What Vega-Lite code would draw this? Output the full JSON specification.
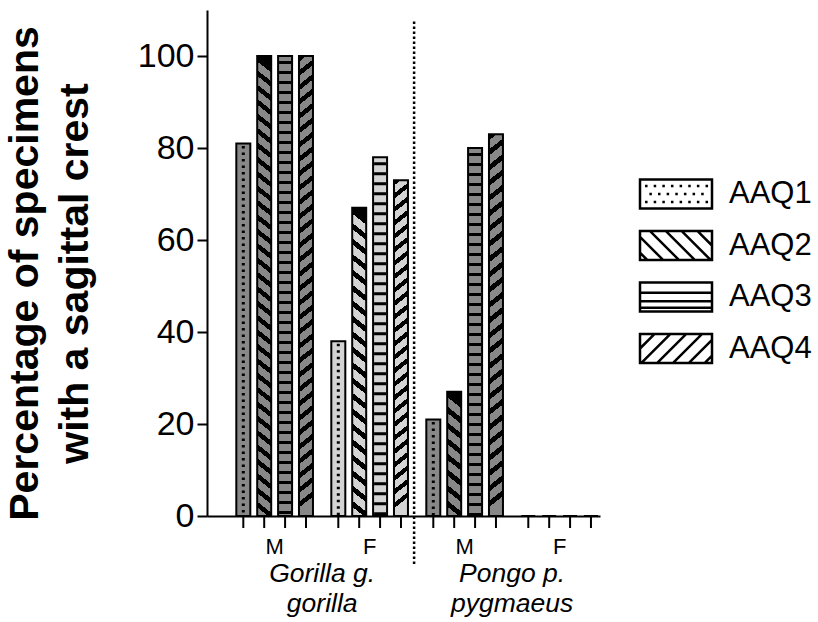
{
  "$schema": "https://vega.github.io/schema/vega-lite/v6.json",
  "autosize": "none",
  "width": 393,
  "height": 506,
  "padding": {"left": 207, "top": 10, "right": 218, "bottom": 106},
  "background": "white",
  "config": {
    "view": {"stroke": null},
    "font": "Liberation Sans",
    "axis": {"grid": false, "domainColor": "#000", "domainWidth": 2, "tickColor": "#000", "tickWidth": 2, "labelColor": "#000", "titleColor": "#000"}
  },
  "data": {
    "values": [
      {"group": "Gorilla M", "aaq": "AAQ1", "pct": 81},
      {"group": "Gorilla M", "aaq": "AAQ2", "pct": 100},
      {"group": "Gorilla M", "aaq": "AAQ3", "pct": 100},
      {"group": "Gorilla M", "aaq": "AAQ4", "pct": 100},
      {"group": "Gorilla F", "aaq": "AAQ1", "pct": 38},
      {"group": "Gorilla F", "aaq": "AAQ2", "pct": 67},
      {"group": "Gorilla F", "aaq": "AAQ3", "pct": 78},
      {"group": "Gorilla F", "aaq": "AAQ4", "pct": 73},
      {"group": "Pongo M", "aaq": "AAQ1", "pct": 21},
      {"group": "Pongo M", "aaq": "AAQ2", "pct": 27},
      {"group": "Pongo M", "aaq": "AAQ3", "pct": 80},
      {"group": "Pongo M", "aaq": "AAQ4", "pct": 83},
      {"group": "Pongo F", "aaq": "AAQ1", "pct": 0},
      {"group": "Pongo F", "aaq": "AAQ2", "pct": 0},
      {"group": "Pongo F", "aaq": "AAQ3", "pct": 0},
      {"group": "Pongo F", "aaq": "AAQ4", "pct": 0}
    ]
  },
  "layer": [
    {
      "encoding": {
        "x": {
          "field": "group", "type": "nominal",
          "scale": {"domain": ["Gorilla M", "Gorilla F", "Pongo M", "Pongo F"], "paddingInner": 0.193, "paddingOuter": 0.165, "align": 0.935},
          "axis": {"title": null, "ticks": false, "labelExpr": "slice(datum.label, -1)", "labelFontSize": 22, "labelPadding": 20, "labelAngle": 0, "domainWidth": 2}
        },
        "xOffset": {
          "field": "aaq", "type": "nominal",
          "scale": {"domain": ["AAQ1", "AAQ2", "AAQ3", "AAQ4"], "paddingInner": 0.33, "paddingOuter": 0}
        }
      },
      "layer": [
        {
          "mark": {"type": "bar", "strokeWidth": 2, "stroke": "#000"},
          "encoding": {
            "y": {
              "field": "pct", "type": "quantitative",
              "scale": {"domain": [0, 110], "nice": false},
              "axis": {
                "values": [0, 20, 40, 60, 80, 100],
                "title": ["Percentage of specimens", "with a sagittal crest"],
                "titleFontSize": 41, "titleFontWeight": "bold", "titleLineHeight": 50,
                "titleX": -161, "titleY": 263, "titleAngle": 270, "titleBaseline": "bottom", "titleAlign": "center",
                "labelFontSize": 34, "tickSize": 10, "tickWidth": 2, "labelPadding": 3, "domainWidth": 2
              }
            },
            "fill": {
              "condition": [
                {"test": "datum.group == 'Gorilla M' && datum.aaq == 'AAQ2'", "value": {"gradient": "linear", "x1": 0.024, "y1": 0, "x2": 0, "y2": 1, "stops": [
                  {"offset":0,"color":"#000"},{"offset":0.0125,"color":"#000"},{"offset":0.0125,"color":"#888"},{"offset":0.03125,"color":"#888"},
                  {"offset":0.03125,"color":"#000"},{"offset":0.04375,"color":"#000"},{"offset":0.04375,"color":"#888"},{"offset":0.0625,"color":"#888"},
                  {"offset":0.0625,"color":"#000"},{"offset":0.075,"color":"#000"},{"offset":0.075,"color":"#888"},{"offset":0.09375,"color":"#888"},
                  {"offset":0.09375,"color":"#000"},{"offset":0.10625,"color":"#000"},{"offset":0.10625,"color":"#888"},{"offset":0.125,"color":"#888"},
                  {"offset":0.125,"color":"#000"},{"offset":0.1375,"color":"#000"},{"offset":0.1375,"color":"#888"},{"offset":0.15625,"color":"#888"},
                  {"offset":0.15625,"color":"#000"},{"offset":0.16875,"color":"#000"},{"offset":0.16875,"color":"#888"},{"offset":0.1875,"color":"#888"},
                  {"offset":0.1875,"color":"#000"},{"offset":0.2,"color":"#000"},{"offset":0.2,"color":"#888"},{"offset":0.21875,"color":"#888"},
                  {"offset":0.21875,"color":"#000"},{"offset":0.23125,"color":"#000"},{"offset":0.23125,"color":"#888"},{"offset":0.25,"color":"#888"},
                  {"offset":0.25,"color":"#000"},{"offset":0.2625,"color":"#000"},{"offset":0.2625,"color":"#888"},{"offset":0.28125,"color":"#888"},
                  {"offset":0.28125,"color":"#000"},{"offset":0.29375,"color":"#000"},{"offset":0.29375,"color":"#888"},{"offset":0.3125,"color":"#888"},
                  {"offset":0.3125,"color":"#000"},{"offset":0.325,"color":"#000"},{"offset":0.325,"color":"#888"},{"offset":0.34375,"color":"#888"},
                  {"offset":0.34375,"color":"#000"},{"offset":0.35625,"color":"#000"},{"offset":0.35625,"color":"#888"},{"offset":0.375,"color":"#888"},
                  {"offset":0.375,"color":"#000"},{"offset":0.3875,"color":"#000"},{"offset":0.3875,"color":"#888"},{"offset":0.40625,"color":"#888"},
                  {"offset":0.40625,"color":"#000"},{"offset":0.41875,"color":"#000"},{"offset":0.41875,"color":"#888"},{"offset":0.4375,"color":"#888"},
                  {"offset":0.4375,"color":"#000"},{"offset":0.45,"color":"#000"},{"offset":0.45,"color":"#888"},{"offset":0.46875,"color":"#888"},
                  {"offset":0.46875,"color":"#000"},{"offset":0.48125,"color":"#000"},{"offset":0.48125,"color":"#888"},{"offset":0.5,"color":"#888"},
                  {"offset":0.5,"color":"#000"},{"offset":0.5125,"color":"#000"},{"offset":0.5125,"color":"#888"},{"offset":0.53125,"color":"#888"},
                  {"offset":0.53125,"color":"#000"},{"offset":0.54375,"color":"#000"},{"offset":0.54375,"color":"#888"},{"offset":0.5625,"color":"#888"},
                  {"offset":0.5625,"color":"#000"},{"offset":0.575,"color":"#000"},{"offset":0.575,"color":"#888"},{"offset":0.59375,"color":"#888"},
                  {"offset":0.59375,"color":"#000"},{"offset":0.60625,"color":"#000"},{"offset":0.60625,"color":"#888"},{"offset":0.625,"color":"#888"},
                  {"offset":0.625,"color":"#000"},{"offset":0.6375,"color":"#000"},{"offset":0.6375,"color":"#888"},{"offset":0.65625,"color":"#888"},
                  {"offset":0.65625,"color":"#000"},{"offset":0.66875,"color":"#000"},{"offset":0.66875,"color":"#888"},{"offset":0.6875,"color":"#888"},
                  {"offset":0.6875,"color":"#000"},{"offset":0.7,"color":"#000"},{"offset":0.7,"color":"#888"},{"offset":0.71875,"color":"#888"},
                  {"offset":0.71875,"color":"#000"},{"offset":0.73125,"color":"#000"},{"offset":0.73125,"color":"#888"},{"offset":0.75,"color":"#888"},
                  {"offset":0.75,"color":"#000"},{"offset":0.7625,"color":"#000"},{"offset":0.7625,"color":"#888"},{"offset":0.78125,"color":"#888"},
                  {"offset":0.78125,"color":"#000"},{"offset":0.79375,"color":"#000"},{"offset":0.79375,"color":"#888"},{"offset":0.8125,"color":"#888"},
                  {"offset":0.8125,"color":"#000"},{"offset":0.825,"color":"#000"},{"offset":0.825,"color":"#888"},{"offset":0.84375,"color":"#888"},
                  {"offset":0.84375,"color":"#000"},{"offset":0.85625,"color":"#000"},{"offset":0.85625,"color":"#888"},{"offset":0.875,"color":"#888"},
                  {"offset":0.875,"color":"#000"},{"offset":0.8875,"color":"#000"},{"offset":0.8875,"color":"#888"},{"offset":0.90625,"color":"#888"},
                  {"offset":0.90625,"color":"#000"},{"offset":0.91875,"color":"#000"},{"offset":0.91875,"color":"#888"},{"offset":0.9375,"color":"#888"},
                  {"offset":0.9375,"color":"#000"},{"offset":0.95,"color":"#000"},{"offset":0.95,"color":"#888"},{"offset":0.96875,"color":"#888"},
                  {"offset":0.96875,"color":"#000"},{"offset":0.98125,"color":"#000"},{"offset":0.98125,"color":"#888"},{"offset":1,"color":"#888"}
                ]}},
                {"test": "datum.group == 'Gorilla M' && datum.aaq == 'AAQ4'", "value": {"gradient": "linear", "x1": 0, "y1": 0, "x2": 0.024, "y2": 1, "stops": [
                  {"offset":0,"color":"#000"},{"offset":0.0125,"color":"#000"},{"offset":0.0125,"color":"#888"},{"offset":0.03125,"color":"#888"},
                  {"offset":0.03125,"color":"#000"},{"offset":0.04375,"color":"#000"},{"offset":0.04375,"color":"#888"},{"offset":0.0625,"color":"#888"},
                  {"offset":0.0625,"color":"#000"},{"offset":0.075,"color":"#000"},{"offset":0.075,"color":"#888"},{"offset":0.09375,"color":"#888"},
                  {"offset":0.09375,"color":"#000"},{"offset":0.10625,"color":"#000"},{"offset":0.10625,"color":"#888"},{"offset":0.125,"color":"#888"},
                  {"offset":0.125,"color":"#000"},{"offset":0.1375,"color":"#000"},{"offset":0.1375,"color":"#888"},{"offset":0.15625,"color":"#888"},
                  {"offset":0.15625,"color":"#000"},{"offset":0.16875,"color":"#000"},{"offset":0.16875,"color":"#888"},{"offset":0.1875,"color":"#888"},
                  {"offset":0.1875,"color":"#000"},{"offset":0.2,"color":"#000"},{"offset":0.2,"color":"#888"},{"offset":0.21875,"color":"#888"},
                  {"offset":0.21875,"color":"#000"},{"offset":0.23125,"color":"#000"},{"offset":0.23125,"color":"#888"},{"offset":0.25,"color":"#888"},
                  {"offset":0.25,"color":"#000"},{"offset":0.2625,"color":"#000"},{"offset":0.2625,"color":"#888"},{"offset":0.28125,"color":"#888"},
                  {"offset":0.28125,"color":"#000"},{"offset":0.29375,"color":"#000"},{"offset":0.29375,"color":"#888"},{"offset":0.3125,"color":"#888"},
                  {"offset":0.3125,"color":"#000"},{"offset":0.325,"color":"#000"},{"offset":0.325,"color":"#888"},{"offset":0.34375,"color":"#888"},
                  {"offset":0.34375,"color":"#000"},{"offset":0.35625,"color":"#000"},{"offset":0.35625,"color":"#888"},{"offset":0.375,"color":"#888"},
                  {"offset":0.375,"color":"#000"},{"offset":0.3875,"color":"#000"},{"offset":0.3875,"color":"#888"},{"offset":0.40625,"color":"#888"},
                  {"offset":0.40625,"color":"#000"},{"offset":0.41875,"color":"#000"},{"offset":0.41875,"color":"#888"},{"offset":0.4375,"color":"#888"},
                  {"offset":0.4375,"color":"#000"},{"offset":0.45,"color":"#000"},{"offset":0.45,"color":"#888"},{"offset":0.46875,"color":"#888"},
                  {"offset":0.46875,"color":"#000"},{"offset":0.48125,"color":"#000"},{"offset":0.48125,"color":"#888"},{"offset":0.5,"color":"#888"},
                  {"offset":0.5,"color":"#000"},{"offset":0.5125,"color":"#000"},{"offset":0.5125,"color":"#888"},{"offset":0.53125,"color":"#888"},
                  {"offset":0.53125,"color":"#000"},{"offset":0.54375,"color":"#000"},{"offset":0.54375,"color":"#888"},{"offset":0.5625,"color":"#888"},
                  {"offset":0.5625,"color":"#000"},{"offset":0.575,"color":"#000"},{"offset":0.575,"color":"#888"},{"offset":0.59375,"color":"#888"},
                  {"offset":0.59375,"color":"#000"},{"offset":0.60625,"color":"#000"},{"offset":0.60625,"color":"#888"},{"offset":0.625,"color":"#888"},
                  {"offset":0.625,"color":"#000"},{"offset":0.6375,"color":"#000"},{"offset":0.6375,"color":"#888"},{"offset":0.65625,"color":"#888"},
                  {"offset":0.65625,"color":"#000"},{"offset":0.66875,"color":"#000"},{"offset":0.66875,"color":"#888"},{"offset":0.6875,"color":"#888"},
                  {"offset":0.6875,"color":"#000"},{"offset":0.7,"color":"#000"},{"offset":0.7,"color":"#888"},{"offset":0.71875,"color":"#888"},
                  {"offset":0.71875,"color":"#000"},{"offset":0.73125,"color":"#000"},{"offset":0.73125,"color":"#888"},{"offset":0.75,"color":"#888"},
                  {"offset":0.75,"color":"#000"},{"offset":0.7625,"color":"#000"},{"offset":0.7625,"color":"#888"},{"offset":0.78125,"color":"#888"},
                  {"offset":0.78125,"color":"#000"},{"offset":0.79375,"color":"#000"},{"offset":0.79375,"color":"#888"},{"offset":0.8125,"color":"#888"},
                  {"offset":0.8125,"color":"#000"},{"offset":0.825,"color":"#000"},{"offset":0.825,"color":"#888"},{"offset":0.84375,"color":"#888"},
                  {"offset":0.84375,"color":"#000"},{"offset":0.85625,"color":"#000"},{"offset":0.85625,"color":"#888"},{"offset":0.875,"color":"#888"},
                  {"offset":0.875,"color":"#000"},{"offset":0.8875,"color":"#000"},{"offset":0.8875,"color":"#888"},{"offset":0.90625,"color":"#888"},
                  {"offset":0.90625,"color":"#000"},{"offset":0.91875,"color":"#000"},{"offset":0.91875,"color":"#888"},{"offset":0.9375,"color":"#888"},
                  {"offset":0.9375,"color":"#000"},{"offset":0.95,"color":"#000"},{"offset":0.95,"color":"#888"},{"offset":0.96875,"color":"#888"},
                  {"offset":0.96875,"color":"#000"},{"offset":0.98125,"color":"#000"},{"offset":0.98125,"color":"#888"},{"offset":1,"color":"#888"}
                ]}},
                {"test": "datum.group == 'Gorilla F' && datum.aaq == 'AAQ2'", "value": {"gradient": "linear", "x1": 0.036, "y1": 0, "x2": 0, "y2": 1, "stops": [
                  {"offset":0,"color":"#000"},{"offset":0.02,"color":"#000"},{"offset":0.02,"color":"#d4d4d4"},{"offset":0.05,"color":"#d4d4d4"},
                  {"offset":0.05,"color":"#000"},{"offset":0.07,"color":"#000"},{"offset":0.07,"color":"#d4d4d4"},{"offset":0.1,"color":"#d4d4d4"},
                  {"offset":0.1,"color":"#000"},{"offset":0.12,"color":"#000"},{"offset":0.12,"color":"#d4d4d4"},{"offset":0.15,"color":"#d4d4d4"},
                  {"offset":0.15,"color":"#000"},{"offset":0.17,"color":"#000"},{"offset":0.17,"color":"#d4d4d4"},{"offset":0.2,"color":"#d4d4d4"},
                  {"offset":0.2,"color":"#000"},{"offset":0.22,"color":"#000"},{"offset":0.22,"color":"#d4d4d4"},{"offset":0.25,"color":"#d4d4d4"},
                  {"offset":0.25,"color":"#000"},{"offset":0.27,"color":"#000"},{"offset":0.27,"color":"#d4d4d4"},{"offset":0.3,"color":"#d4d4d4"},
                  {"offset":0.3,"color":"#000"},{"offset":0.32,"color":"#000"},{"offset":0.32,"color":"#d4d4d4"},{"offset":0.35,"color":"#d4d4d4"},
                  {"offset":0.35,"color":"#000"},{"offset":0.37,"color":"#000"},{"offset":0.37,"color":"#d4d4d4"},{"offset":0.4,"color":"#d4d4d4"},
                  {"offset":0.4,"color":"#000"},{"offset":0.42,"color":"#000"},{"offset":0.42,"color":"#d4d4d4"},{"offset":0.45,"color":"#d4d4d4"},
                  {"offset":0.45,"color":"#000"},{"offset":0.47,"color":"#000"},{"offset":0.47,"color":"#d4d4d4"},{"offset":0.5,"color":"#d4d4d4"},
                  {"offset":0.5,"color":"#000"},{"offset":0.52,"color":"#000"},{"offset":0.52,"color":"#d4d4d4"},{"offset":0.55,"color":"#d4d4d4"},
                  {"offset":0.55,"color":"#000"},{"offset":0.57,"color":"#000"},{"offset":0.57,"color":"#d4d4d4"},{"offset":0.6,"color":"#d4d4d4"},
                  {"offset":0.6,"color":"#000"},{"offset":0.62,"color":"#000"},{"offset":0.62,"color":"#d4d4d4"},{"offset":0.65,"color":"#d4d4d4"},
                  {"offset":0.65,"color":"#000"},{"offset":0.67,"color":"#000"},{"offset":0.67,"color":"#d4d4d4"},{"offset":0.7,"color":"#d4d4d4"},
                  {"offset":0.7,"color":"#000"},{"offset":0.72,"color":"#000"},{"offset":0.72,"color":"#d4d4d4"},{"offset":0.75,"color":"#d4d4d4"},
                  {"offset":0.75,"color":"#000"},{"offset":0.77,"color":"#000"},{"offset":0.77,"color":"#d4d4d4"},{"offset":0.8,"color":"#d4d4d4"},
                  {"offset":0.8,"color":"#000"},{"offset":0.82,"color":"#000"},{"offset":0.82,"color":"#d4d4d4"},{"offset":0.85,"color":"#d4d4d4"},
                  {"offset":0.85,"color":"#000"},{"offset":0.87,"color":"#000"},{"offset":0.87,"color":"#d4d4d4"},{"offset":0.9,"color":"#d4d4d4"},
                  {"offset":0.9,"color":"#000"},{"offset":0.92,"color":"#000"},{"offset":0.92,"color":"#d4d4d4"},{"offset":0.95,"color":"#d4d4d4"},
                  {"offset":0.95,"color":"#000"},{"offset":0.97,"color":"#000"},{"offset":0.97,"color":"#d4d4d4"},{"offset":1,"color":"#d4d4d4"}
                ]}},
                {"test": "datum.group == 'Gorilla F' && datum.aaq == 'AAQ4'", "value": {"gradient": "linear", "x1": 0, "y1": 0, "x2": 0.033, "y2": 1, "stops": [
                  {"offset":0,"color":"#000"},{"offset":0.016,"color":"#000"},{"offset":0.016,"color":"#d4d4d4"},{"offset":0.04,"color":"#d4d4d4"},
                  {"offset":0.04,"color":"#000"},{"offset":0.056,"color":"#000"},{"offset":0.056,"color":"#d4d4d4"},{"offset":0.08,"color":"#d4d4d4"},
                  {"offset":0.08,"color":"#000"},{"offset":0.096,"color":"#000"},{"offset":0.096,"color":"#d4d4d4"},{"offset":0.12,"color":"#d4d4d4"},
                  {"offset":0.12,"color":"#000"},{"offset":0.136,"color":"#000"},{"offset":0.136,"color":"#d4d4d4"},{"offset":0.16,"color":"#d4d4d4"},
                  {"offset":0.16,"color":"#000"},{"offset":0.176,"color":"#000"},{"offset":0.176,"color":"#d4d4d4"},{"offset":0.2,"color":"#d4d4d4"},
                  {"offset":0.2,"color":"#000"},{"offset":0.216,"color":"#000"},{"offset":0.216,"color":"#d4d4d4"},{"offset":0.24,"color":"#d4d4d4"},
                  {"offset":0.24,"color":"#000"},{"offset":0.256,"color":"#000"},{"offset":0.256,"color":"#d4d4d4"},{"offset":0.28,"color":"#d4d4d4"},
                  {"offset":0.28,"color":"#000"},{"offset":0.296,"color":"#000"},{"offset":0.296,"color":"#d4d4d4"},{"offset":0.32,"color":"#d4d4d4"},
                  {"offset":0.32,"color":"#000"},{"offset":0.336,"color":"#000"},{"offset":0.336,"color":"#d4d4d4"},{"offset":0.36,"color":"#d4d4d4"},
                  {"offset":0.36,"color":"#000"},{"offset":0.376,"color":"#000"},{"offset":0.376,"color":"#d4d4d4"},{"offset":0.4,"color":"#d4d4d4"},
                  {"offset":0.4,"color":"#000"},{"offset":0.416,"color":"#000"},{"offset":0.416,"color":"#d4d4d4"},{"offset":0.44,"color":"#d4d4d4"},
                  {"offset":0.44,"color":"#000"},{"offset":0.456,"color":"#000"},{"offset":0.456,"color":"#d4d4d4"},{"offset":0.48,"color":"#d4d4d4"},
                  {"offset":0.48,"color":"#000"},{"offset":0.496,"color":"#000"},{"offset":0.496,"color":"#d4d4d4"},{"offset":0.52,"color":"#d4d4d4"},
                  {"offset":0.52,"color":"#000"},{"offset":0.536,"color":"#000"},{"offset":0.536,"color":"#d4d4d4"},{"offset":0.56,"color":"#d4d4d4"},
                  {"offset":0.56,"color":"#000"},{"offset":0.576,"color":"#000"},{"offset":0.576,"color":"#d4d4d4"},{"offset":0.6,"color":"#d4d4d4"},
                  {"offset":0.6,"color":"#000"},{"offset":0.616,"color":"#000"},{"offset":0.616,"color":"#d4d4d4"},{"offset":0.64,"color":"#d4d4d4"},
                  {"offset":0.64,"color":"#000"},{"offset":0.656,"color":"#000"},{"offset":0.656,"color":"#d4d4d4"},{"offset":0.68,"color":"#d4d4d4"},
                  {"offset":0.68,"color":"#000"},{"offset":0.696,"color":"#000"},{"offset":0.696,"color":"#d4d4d4"},{"offset":0.72,"color":"#d4d4d4"},
                  {"offset":0.72,"color":"#000"},{"offset":0.736,"color":"#000"},{"offset":0.736,"color":"#d4d4d4"},{"offset":0.76,"color":"#d4d4d4"},
                  {"offset":0.76,"color":"#000"},{"offset":0.776,"color":"#000"},{"offset":0.776,"color":"#d4d4d4"},{"offset":0.8,"color":"#d4d4d4"},
                  {"offset":0.8,"color":"#000"},{"offset":0.816,"color":"#000"},{"offset":0.816,"color":"#d4d4d4"},{"offset":0.84,"color":"#d4d4d4"},
                  {"offset":0.84,"color":"#000"},{"offset":0.856,"color":"#000"},{"offset":0.856,"color":"#d4d4d4"},{"offset":0.88,"color":"#d4d4d4"},
                  {"offset":0.88,"color":"#000"},{"offset":0.896,"color":"#000"},{"offset":0.896,"color":"#d4d4d4"},{"offset":0.92,"color":"#d4d4d4"},
                  {"offset":0.92,"color":"#000"},{"offset":0.936,"color":"#000"},{"offset":0.936,"color":"#d4d4d4"},{"offset":0.96,"color":"#d4d4d4"},
                  {"offset":0.96,"color":"#000"},{"offset":0.976,"color":"#000"},{"offset":0.976,"color":"#d4d4d4"},{"offset":1,"color":"#d4d4d4"}
                ]}},
                {"test": "datum.group == 'Pongo M' && datum.aaq == 'AAQ2'", "value": {"gradient": "linear", "x1": 0.09, "y1": 0, "x2": 0, "y2": 1, "stops": [
                  {"offset":0,"color":"#000"},{"offset":0.05,"color":"#000"},{"offset":0.05,"color":"#888"},{"offset":0.125,"color":"#888"},
                  {"offset":0.125,"color":"#000"},{"offset":0.175,"color":"#000"},{"offset":0.175,"color":"#888"},{"offset":0.25,"color":"#888"},
                  {"offset":0.25,"color":"#000"},{"offset":0.3,"color":"#000"},{"offset":0.3,"color":"#888"},{"offset":0.375,"color":"#888"},
                  {"offset":0.375,"color":"#000"},{"offset":0.425,"color":"#000"},{"offset":0.425,"color":"#888"},{"offset":0.5,"color":"#888"},
                  {"offset":0.5,"color":"#000"},{"offset":0.55,"color":"#000"},{"offset":0.55,"color":"#888"},{"offset":0.625,"color":"#888"},
                  {"offset":0.625,"color":"#000"},{"offset":0.675,"color":"#000"},{"offset":0.675,"color":"#888"},{"offset":0.75,"color":"#888"},
                  {"offset":0.75,"color":"#000"},{"offset":0.8,"color":"#000"},{"offset":0.8,"color":"#888"},{"offset":0.875,"color":"#888"},
                  {"offset":0.875,"color":"#000"},{"offset":0.925,"color":"#000"},{"offset":0.925,"color":"#888"},{"offset":1,"color":"#888"}
                ]}},
                {"test": "datum.group == 'Pongo M' && datum.aaq == 'AAQ4'", "value": {"gradient": "linear", "x1": 0, "y1": 0, "x2": 0.029, "y2": 1, "stops": [
                  {"offset":0,"color":"#000"},{"offset":0.016,"color":"#000"},{"offset":0.016,"color":"#888"},{"offset":0.04,"color":"#888"},
                  {"offset":0.04,"color":"#000"},{"offset":0.056,"color":"#000"},{"offset":0.056,"color":"#888"},{"offset":0.08,"color":"#888"},
                  {"offset":0.08,"color":"#000"},{"offset":0.096,"color":"#000"},{"offset":0.096,"color":"#888"},{"offset":0.12,"color":"#888"},
                  {"offset":0.12,"color":"#000"},{"offset":0.136,"color":"#000"},{"offset":0.136,"color":"#888"},{"offset":0.16,"color":"#888"},
                  {"offset":0.16,"color":"#000"},{"offset":0.176,"color":"#000"},{"offset":0.176,"color":"#888"},{"offset":0.2,"color":"#888"},
                  {"offset":0.2,"color":"#000"},{"offset":0.216,"color":"#000"},{"offset":0.216,"color":"#888"},{"offset":0.24,"color":"#888"},
                  {"offset":0.24,"color":"#000"},{"offset":0.256,"color":"#000"},{"offset":0.256,"color":"#888"},{"offset":0.28,"color":"#888"},
                  {"offset":0.28,"color":"#000"},{"offset":0.296,"color":"#000"},{"offset":0.296,"color":"#888"},{"offset":0.32,"color":"#888"},
                  {"offset":0.32,"color":"#000"},{"offset":0.336,"color":"#000"},{"offset":0.336,"color":"#888"},{"offset":0.36,"color":"#888"},
                  {"offset":0.36,"color":"#000"},{"offset":0.376,"color":"#000"},{"offset":0.376,"color":"#888"},{"offset":0.4,"color":"#888"},
                  {"offset":0.4,"color":"#000"},{"offset":0.416,"color":"#000"},{"offset":0.416,"color":"#888"},{"offset":0.44,"color":"#888"},
                  {"offset":0.44,"color":"#000"},{"offset":0.456,"color":"#000"},{"offset":0.456,"color":"#888"},{"offset":0.48,"color":"#888"},
                  {"offset":0.48,"color":"#000"},{"offset":0.496,"color":"#000"},{"offset":0.496,"color":"#888"},{"offset":0.52,"color":"#888"},
                  {"offset":0.52,"color":"#000"},{"offset":0.536,"color":"#000"},{"offset":0.536,"color":"#888"},{"offset":0.56,"color":"#888"},
                  {"offset":0.56,"color":"#000"},{"offset":0.576,"color":"#000"},{"offset":0.576,"color":"#888"},{"offset":0.6,"color":"#888"},
                  {"offset":0.6,"color":"#000"},{"offset":0.616,"color":"#000"},{"offset":0.616,"color":"#888"},{"offset":0.64,"color":"#888"},
                  {"offset":0.64,"color":"#000"},{"offset":0.656,"color":"#000"},{"offset":0.656,"color":"#888"},{"offset":0.68,"color":"#888"},
                  {"offset":0.68,"color":"#000"},{"offset":0.696,"color":"#000"},{"offset":0.696,"color":"#888"},{"offset":0.72,"color":"#888"},
                  {"offset":0.72,"color":"#000"},{"offset":0.736,"color":"#000"},{"offset":0.736,"color":"#888"},{"offset":0.76,"color":"#888"},
                  {"offset":0.76,"color":"#000"},{"offset":0.776,"color":"#000"},{"offset":0.776,"color":"#888"},{"offset":0.8,"color":"#888"},
                  {"offset":0.8,"color":"#000"},{"offset":0.816,"color":"#000"},{"offset":0.816,"color":"#888"},{"offset":0.84,"color":"#888"},
                  {"offset":0.84,"color":"#000"},{"offset":0.856,"color":"#000"},{"offset":0.856,"color":"#888"},{"offset":0.88,"color":"#888"},
                  {"offset":0.88,"color":"#000"},{"offset":0.896,"color":"#000"},{"offset":0.896,"color":"#888"},{"offset":0.92,"color":"#888"},
                  {"offset":0.92,"color":"#000"},{"offset":0.936,"color":"#000"},{"offset":0.936,"color":"#888"},{"offset":0.96,"color":"#888"},
                  {"offset":0.96,"color":"#000"},{"offset":0.976,"color":"#000"},{"offset":0.976,"color":"#888"},{"offset":1,"color":"#888"}
                ]}},
                {"test": "slice(datum.group, -1) == 'F'", "value": "#d4d4d4"}
              ],
              "value": "#888"
            }
          }
        },
        {
          "mark": {"type": "rule", "strokeWidth": 2, "color": "#000", "y2Offset": 12},
          "encoding": {
            "y": {"datum": 0, "type": "quantitative"},
            "y2": {"datum": 0}
          }
        },
        {
          "transform": [{"filter": "datum.aaq == 'AAQ1'"}],
          "mark": {"type": "rule", "strokeWidth": 3, "strokeDash": [2.5, 4], "strokeDashOffset": 4, "color": "#000"},
          "encoding": {
            "y": {"field": "pct", "type": "quantitative"},
            "y2": {"datum": 0}
          }
        },
        {
          "transform": [{"filter": "datum.aaq == 'AAQ3'"}],
          "mark": {"type": "rule", "strokeWidth": 12, "strokeDash": [3, 7], "strokeDashOffset": 5, "color": "#000"},
          "encoding": {
            "y": {"field": "pct", "type": "quantitative"},
            "y2": {"datum": 0}
          }
        },
        {
          "transform": [{"filter": "false"}],
          "mark": {"type": "point", "filled": false, "color": "#000", "opacity": 1, "size": 2304, "strokeWidth": 2.5},
          "encoding": {
            "y": {"field": "pct", "type": "quantitative"},
            "shape": {
              "field": "aaq", "type": "nominal",
              "scale": {
                "domain": ["AAQ1", "AAQ2", "AAQ3", "AAQ4"],
                "range": [
                  "M-1.5,-0.6H1.5V0.6H-1.5ZM-1.29,-0.33h0.105M-0.93,-0.33h0.105M-0.57,-0.33h0.105M-0.21,-0.33h0.105M0.15,-0.33h0.105M0.51,-0.33h0.105M0.87,-0.33h0.105M1.23,-0.33h0.105M-1.11,0h0.105M-0.75,0h0.105M-0.39,0h0.105M-0.03,0h0.105M0.33,0h0.105M0.69,0h0.105M1.05,0h0.105M-1.29,0.33h0.105M-0.93,0.33h0.105M-0.57,0.33h0.105M-0.21,0.33h0.105M0.15,0.33h0.105M0.51,0.33h0.105M0.87,0.33h0.105M1.23,0.33h0.105",
                  "M-1.5,-0.6H1.5V0.6H-1.5ZM-1.5,0.3L-1.2,0.6M-1.5,-0.36L-0.54,0.6M-1.08,-0.6L0.12,0.6M-0.42,-0.6L0.78,0.6M0.24,-0.6L1.44,0.6M0.9,-0.6L1.5,0",
                  "M-1.5,-0.6H1.5V0.6H-1.5ZM-1.5,-0.18H1.5M-1.5,0.18H1.5M-1.5,0.45H1.5",
                  "M-1.5,-0.6H1.5V0.6H-1.5ZM1.5,0.3L1.2,0.6M1.5,-0.36L0.54,0.6M1.08,-0.6L-0.12,0.6M0.42,-0.6L-0.78,0.6M-0.24,-0.6L-1.44,0.6M-0.9,-0.6L-1.5,0"
                ]
              },
              "legend": {
                "title": null, "orient": "none", "legendX": 443.5, "legendY": 158.5, "padding": 0,
                "symbolSize": 2304, "symbolStrokeWidth": 2.5, "symbolStrokeColor": "#000", "symbolOpacity": 1,
                "labelFontSize": 31, "labelColor": "#000", "labelOffset": 27.5, "rowPadding": 6.5
              }
            }
          }
        }
      ]
    },
    {
      "data": {"values": [{"divider": "species"}]},
      "mark": {"type": "rule", "strokeWidth": 2.5, "strokeDash": [2.5, 2.5], "color": "#000"},
      "encoding": {
        "x": {"datum": "Gorilla F", "type": "nominal", "bandPosition": 1.08},
        "y": {"datum": 107.5, "type": "quantitative"},
        "y2": {"datum": -10.7}
      }
    },
    {
      "data": {"values": [
        {"group": "Gorilla M", "species": "Gorilla g.\ngorilla"},
        {"group": "Pongo M", "species": "Pongo p.\npygmaeus"}
      ]},
      "mark": {"type": "text", "fontStyle": "italic", "fontSize": 26.5, "lineHeight": 30, "lineBreak": "\n", "baseline": "alphabetic", "align": "center", "dy": 66, "color": "#000"},
      "encoding": {
        "x": {"field": "group", "type": "nominal", "bandPosition": 1.12},
        "y": {"datum": 0, "type": "quantitative"},
        "text": {"field": "species"}
      }
    }
  ]
}
